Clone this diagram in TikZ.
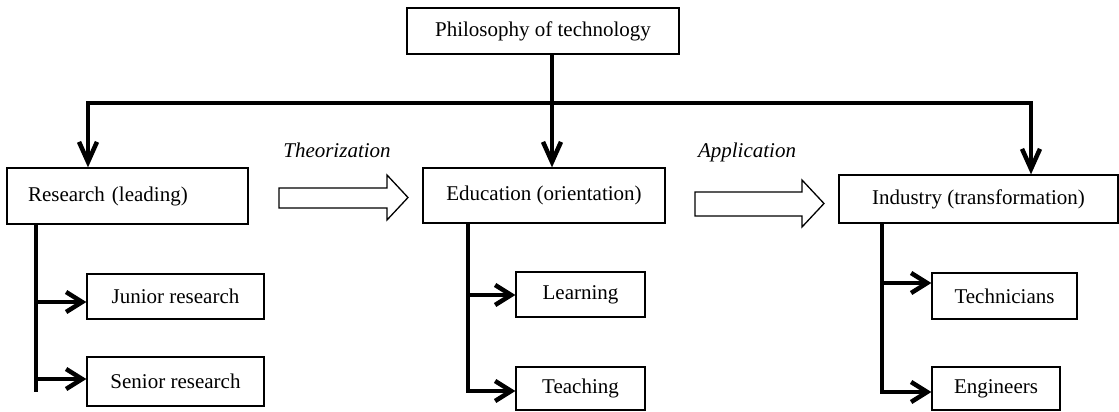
\documentclass[tikz,border=0pt]{standalone}
\usepackage{fontspec}
\setmainfont{Liberation Serif}
\usetikzlibrary{arrows.meta}
\begin{document}
\begin{tikzpicture}[x=1pt,y=-1pt,
  box/.style={draw, line width=1.3pt, fill=white, inner sep=0pt, font=\fontsize{21}{25}\selectfont},
  thickline/.style={line width=4pt},
  thickarrow/.style={line width=4pt, -{Straight Barb[length=20pt,width=18pt,line width=4.5pt]}},
  sidearrow/.style={line width=4pt, -{Straight Barb[length=16pt,width=20pt,line width=4.5pt]}},
  blockarrow/.style={draw, line width=1.3pt, fill=white, line join=miter},
  lbl/.style={font=\fontsize{21}{25}\selectfont\itshape, inner sep=0pt}]
\useasboundingbox (0,0) rectangle (1119,412);

% boxes
\node[box, minimum width=272pt, minimum height=46pt] (phil) at (543,31) {Philosophy of technology};
\node[box, text width=199pt, inner xsep=21pt, minimum height=56pt, align=left] (res) at (127.5,196) {Research (leading)};
\node[box, minimum width=242pt, minimum height=55pt] (edu) at (544,195.5) {Education (orientation)};
\node[box, minimum width=279pt, minimum height=48pt] (ind) at (978.5,199) {Industry (transformation)};
\node[box, minimum width=177pt, minimum height=45pt] (jun) at (175.5,296.5) {Junior research};
\node[box, minimum width=177pt, minimum height=49pt] (sen) at (175.5,381.5) {Senior research};
\node[box, minimum width=129pt, minimum height=45pt] (lea) at (580.5,294.5) {Learning};
\node[box, minimum width=129pt, minimum height=43pt] (tea) at (580.5,388.5) {Teaching};
\node[box, minimum width=145pt, minimum height=46pt] (tec) at (1004.5,296) {Technicians};
\node[box, minimum width=128pt, minimum height=43pt] (eng) at (996,388.5) {Engineers};

% labels
\node[lbl] (theo) at (337,150) {Theorization};
\node[lbl] (appl) at (747,152) {Application};

% top distribution
\coordinate (pstem) at (552,54);
\coordinate (bl) at (88,103);
\coordinate (br) at (1031,103);
\draw[thickline] (bl) -- (br);
\draw[thickarrow] (pstem) -- (pstem |- edu.north);
\draw[thickarrow] ([xshift=-2pt]bl) -- (bl) -- (bl |- res.north);
\draw[thickarrow] ([xshift=2pt]br) -- (br) -- (br |- ind.north);

% research branch
\coordinate (rs) at (36,224);
\coordinate (re) at (36,392);
\draw[thickline] (rs) -- (re);
\draw[sidearrow] (36,302) -- (36,302 -| jun.west);
\draw[sidearrow] (36,379) -- (36,379 -| sen.west);

% education branch
\coordinate (es) at (468,223);
\coordinate (ee) at (468,391);
\draw[thickline] (es) -- (ee);
\draw[sidearrow] (468,295) -- (468,295 -| lea.west);
\draw[sidearrow] (466,391) -- (468,391 -| tea.west);

% industry branch
\coordinate (is) at (882,223);
\coordinate (ie) at (882,392);
\draw[thickline] (is) -- (ie);
\draw[sidearrow] (882,283) -- (882,283 -| tec.west);
\draw[sidearrow] (880,392) -- (882,392 -| eng.west);

% block arrows
\draw[blockarrow] (279,188) -- (387,188) -- (387,175) -- (408,197.5) -- (387,220) -- (387,208) -- (279,208) -- cycle;
\draw[blockarrow] (695,192) -- (802,192) -- (802,180) -- (824,203.5) -- (802,227) -- (802,216) -- (695,216) -- cycle;
\end{tikzpicture}
\end{document}
